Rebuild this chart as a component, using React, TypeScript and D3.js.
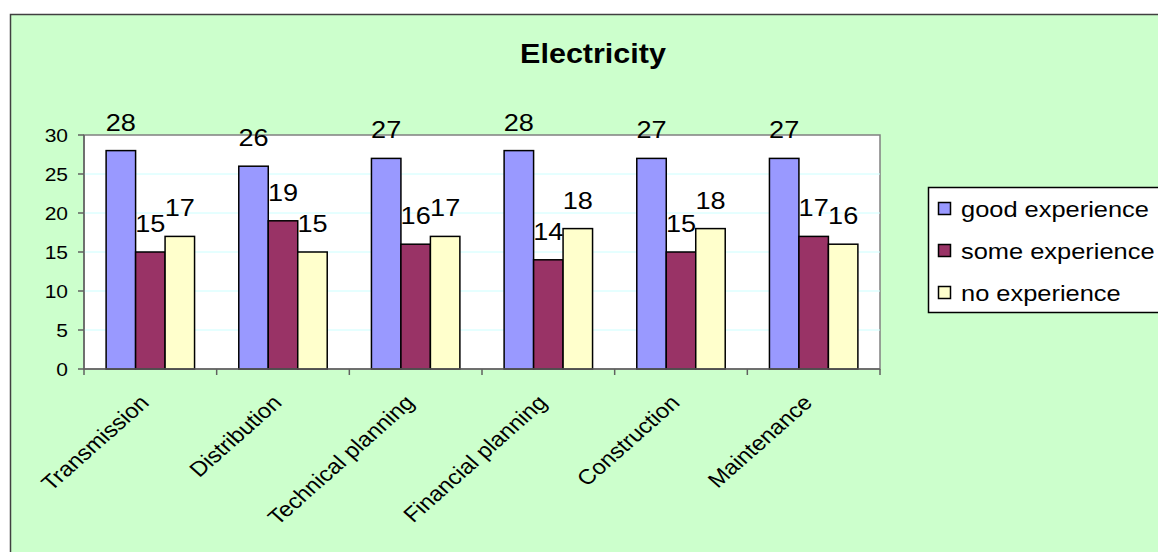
import React from "react";
import * as d3 from "d3";

const categories = ["Transmission", "Distribution", "Technical planning", "Financial planning", "Construction", "Maintenance"];
const seriesNames = ["good experience", "some experience", "no experience"];
const goodExperience = [28, 26, 27, 28, 27, 27];
const someExperience = [15, 19, 16, 14, 15, 17];
const noExperience = [17, 15, 17, 18, 18, 16];
const seriesColors = ["#9999FF", "#993366", "#FFFFCC"];
const yTicks = [0, 5, 10, 15, 20, 25, 30];
const title = "Electricity";

const W = 1158, H = 552;
const plot = { left: 84, right: 880, top: 135, bottom: 369 };
const SX = 1.13;
const FONT = "Arial, 'Liberation Sans', sans-serif";

export default function App() {
  const series = [goodExperience, someExperience, noExperience];
  const x = d3.scaleBand<string>().domain(categories).range([plot.left, plot.right]).padding(0);
  const inner = d3.scaleBand<number>().domain([0, 1, 2]).range([0, x.bandwidth()]).paddingInner(0).paddingOuter(0.75);
  const y = d3.scaleLinear().domain([0, 30]).range([plot.bottom, plot.top]);
  const boundaries = categories.map((c) => x(c)!).concat([plot.right]);

  return (
    <svg width={W} height={H} style={{ position: "absolute", left: 0, top: 0, background: "#fff" }} fontFamily={FONT}>
      <rect x={10.5} y={14.5} width={1200} height={600} fill="#CCFFCC" stroke="#404040" strokeWidth={1.5} />
      <text transform={`translate(593,63) scale(${SX},1)`} textAnchor="middle" fontSize={27} fontWeight="bold" fill="#000">{title}</text>
      <rect x={plot.left} y={plot.top} width={plot.right - plot.left} height={plot.bottom - plot.top} fill="#fff" stroke="#808080" strokeWidth={1.5} />
      {yTicks.filter((t) => t > 0 && t < 30).map((t) => (
        <line key={"g" + t} x1={plot.left} x2={plot.right} y1={y(t)} y2={y(t)} stroke="#CCFFFF" strokeWidth={1} />
      ))}
      {categories.map((c, ci) =>
        series.map((s, si) => {
          const bx = x(c)! + inner(si)!;
          return (
            <rect key={c + si} x={bx} y={y(s[ci])} width={inner.bandwidth()} height={y(0) - y(s[ci])} fill={seriesColors[si]} stroke="#000" strokeWidth={1.5} />
          );
        })
      )}
      <line x1={plot.left} x2={plot.left} y1={plot.top} y2={plot.bottom} stroke="#606060" strokeWidth={1.5} />
      <line x1={plot.left} x2={plot.right} y1={plot.bottom} y2={plot.bottom} stroke="#606060" strokeWidth={1.5} />
      {yTicks.map((t) => (
        <g key={"t" + t}>
          <line x1={plot.left - 6} x2={plot.left} y1={y(t)} y2={y(t)} stroke="#606060" strokeWidth={1.5} />
          <text transform={`translate(68,${y(t) + 6.7}) scale(${SX},1)`} textAnchor="end" fontSize={18.6} fill="#000">{t}</text>
        </g>
      ))}
      {boundaries.map((b, i) => (
        <line key={"b" + i} x1={b} x2={b} y1={plot.bottom} y2={plot.bottom + 6} stroke="#606060" strokeWidth={1.5} />
      ))}
      {categories.map((c) => (
        <text key={"c" + c} transform={`translate(${x(c)! + x.bandwidth() / 2},404) scale(${SX},1) rotate(-45)`} textAnchor="end" fontSize={21} fill="#000">{c}</text>
      ))}
      {categories.map((c, ci) =>
        series.map((s, si) => {
          const cx = x(c)! + inner(si)! + inner.bandwidth() / 2;
          return (
            <text key={"v" + c + si} transform={`translate(${cx},${y(s[ci]) - 20}) scale(${SX},1)`} textAnchor="middle" fontSize={24} fill="#000">{s[ci]}</text>
          );
        })
      )}
      <rect x={928.5} y={187.5} width={300} height={125} fill="#fff" stroke="#000" strokeWidth={1.5} />
      {seriesNames.map((n, i) => (
        <g key={n}>
          <rect x={938.5} y={202.5 + i * 42} width={12} height={12} fill={seriesColors[i]} stroke="#000" strokeWidth={1.5} />
          <text transform={`translate(961,${216.5 + i * 42}) scale(${SX},1)`} fontSize={22.5} fill="#000">{n}</text>
        </g>
      ))}
    </svg>
  );
}
